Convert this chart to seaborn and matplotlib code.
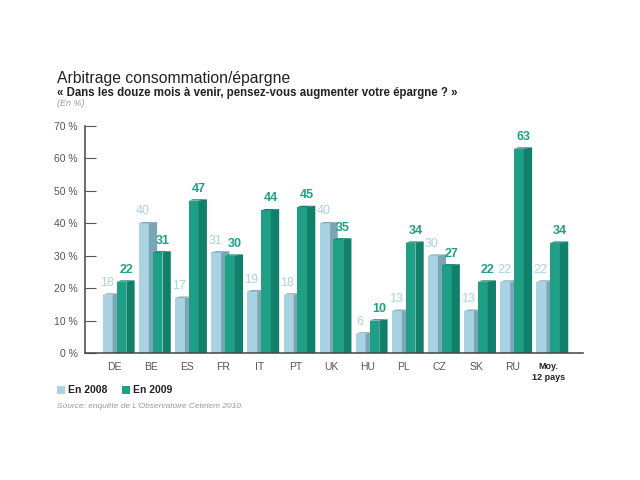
import pandas as pd
import matplotlib.pyplot as plt
import seaborn as sns
from matplotlib.patches import Polygon

# ==========================================================
# DATA
# ==========================================================

countries = ["DE", "BE", "ES", "FR", "IT", "PT", "UK", "HU", "PL", "CZ", "SK", "RU", "Moy.\n12 pays"]
values_2008 = [18, 40, 17, 31, 19, 18, 40, 6, 13, 30, 13, 22, 22]
values_2009 = [22, 31, 47, 30, 44, 45, 35, 10, 34, 27, 22, 63, 34]
series = ["En 2008", "En 2009"]
yticks = [0, 10, 20, 30, 40, 50, 60, 70]

colors = {"En 2008": "#a9d3e3", "En 2009": "#1f9f85"}
side_colors = {"En 2008": "#7aa6b6", "En 2009": "#10806a"}
label_colors = {"En 2008": "#a9d3e3", "En 2009": "#1f9f85"}

df = pd.DataFrame({
    "pays": countries * 2,
    "valeur": values_2008 + values_2009,
    "annee": [series[0]] * len(countries) + [series[1]] * len(countries),
})

# ==========================================================
# FIGURE
# ==========================================================

sns.set_style("white")
plt.rcParams["font.family"] = ["Liberation Sans", "DejaVu Sans"]

fig = plt.figure(figsize=(6.4, 4.8), dpi=100)
ax = fig.add_axes([0.1328, 0.2646, 0.778, 0.473])

sns.barplot(data=df, x="pays", y="valeur", hue="annee", palette=colors,
            width=0.76, gap=0.29, saturation=1, linewidth=0, legend=False, ax=ax)

# pseudo 3D side faces + value labels
for i, (container, name) in enumerate(zip(ax.containers, series)):
    for bar, val in zip(container, container.datavalues):
        bar.set_zorder(2 + 2 * i)
        x0 = bar.get_x()
        w = bar.get_width()
        h = bar.get_height()
        d = w * 0.85
        side = Polygon([(x0 + w, 0), (x0 + w + d, 0), (x0 + w + d, h + 0.4),
                        (x0 + w, h)], closed=True, facecolor=side_colors[name],
                       edgecolor="none", zorder=2.5 + 2 * i)
        ax.add_patch(side)
        top = Polygon([(x0, h), (x0 + w, h), (x0 + w + d, h + 0.4), (x0 + d * 0.5, h + 0.4)],
                      closed=True, facecolor=side_colors[name], edgecolor="none",
                      zorder=2.5 + 2 * i)
        ax.add_patch(top)
        if name == "En 2009":
            tx = x0 + w
        else:
            tx = x0 + w * 0.4
        ax.text(tx, h + 1.8, f"{val:.0f}", ha="center", va="bottom",
                fontsize=9, color=label_colors[name], zorder=6,
                fontweight="bold" if name == "En 2009" else "normal")

ax.set_ylim(0, 70)
ax.set_xlim(-0.82, len(countries) - 0.04)
ax.set_yticks(yticks)
ax.set_yticklabels([f"{t} %" for t in yticks], fontsize=7.5, color="#555555")
ax.set_xlabel("")
ax.set_ylabel("")
ax.tick_params(axis="y", left=True, direction="in", length=8, width=0.8,
               color="#555555", pad=5)
ax.tick_params(axis="x", bottom=False, pad=3)

xlabels = ax.get_xticklabels()
for lab in xlabels:
    lab.set_fontsize(7.5)
    lab.set_color("#555555")
    lab.set_va("top")
    if lab.get_text().startswith("Moy"):
        lab.set_fontweight("bold")
        lab.set_fontsize(6.5)
        lab.set_color("#222222")
        lab.set_linespacing(1.3)

for s in ["top", "right"]:
    ax.spines[s].set_visible(False)
for s in ["left", "bottom"]:
    ax.spines[s].set_color("#444444")
    ax.spines[s].set_linewidth(1.1)
    ax.spines[s].set_zorder(7)

# ==========================================================
# TEXTS
# ==========================================================

fig.text(0.089, 0.8375, "Arbitrage consommation/épargne", fontsize=11.3, color="#222222",
         va="center")
fig.text(0.089, 0.806, "« Dans les douze mois à venir, pensez-vous augmenter votre épargne ? »",
         fontsize=8.3, fontweight="bold", color="#222222", va="center")
fig.text(0.089, 0.785, "(En %)", fontsize=6.5, style="italic", color="#999999", va="center")

# legend
fig.patches.append(plt.Rectangle((0.089, 0.179), 0.012, 0.017, transform=fig.transFigure,
                                 facecolor=colors["En 2008"], edgecolor="none"))
fig.text(0.106, 0.1875, "En 2008", fontsize=7.5, fontweight="bold", color="#222222",
         va="center")
fig.patches.append(plt.Rectangle((0.191, 0.179), 0.012, 0.017, transform=fig.transFigure,
                                 facecolor=colors["En 2009"], edgecolor="none"))
fig.text(0.208, 0.1875, "En 2009", fontsize=7.5, fontweight="bold", color="#222222",
         va="center")

fig.text(0.089, 0.154, "Source: enquête de L'Observatoire Cetelem 2010.", fontsize=6,
         style="italic", color="#999999", va="center")

plt.savefig("out.png", dpi=100)
